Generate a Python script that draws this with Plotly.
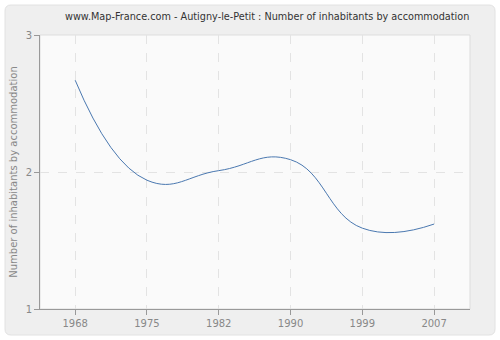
import plotly.graph_objects as go

years = [1968, 1975, 1982, 1990, 1999, 2007]
values = [2.67, 1.94, 2.01, 2.09, 1.59, 1.62]
y_ticks = [1, 2, 3]
title = "www.Map-France.com - Autigny-le-Petit : Number of inhabitants by accommodation"
y_title = "Number of inhabitants by accommodation"

W, H = 500, 340
L, R, T, B = 40, 30, 35, 31
pw, ph = W - L - R, H - T - B


def px(x):
    return (x - L) / pw


def py(y):
    return (H - B - y) / ph


def rounded(x0, y0, x1, y1, r):
    X0, X1 = px(x0), px(x1)
    Y0, Y1 = py(y0), py(y1)
    rx, ry = r / pw, r / ph
    return (f"M {X0+rx},{Y0} L {X1-rx},{Y0} Q {X1},{Y0} {X1},{Y0-ry} "
            f"L {X1},{Y1+ry} Q {X1},{Y1} {X1-rx},{Y1} L {X0+rx},{Y1} "
            f"Q {X0},{Y1} {X0},{Y1+ry} L {X0},{Y0-ry} Q {X0},{Y0} {X0+rx},{Y0} Z")


pos = list(range(len(years)))

fig = go.Figure()
fig.add_trace(go.Scatter(
    x=pos, y=values, mode="lines",
    line=dict(color="#4a78b0", width=1, shape="spline", smoothing=1.3),
    text=[str(y) for y in years], hoverinfo="text+y",
))

font = "DejaVu Sans"
fig.update_layout(
    width=W, height=H,
    margin=dict(l=L, r=R, t=T, b=B),
    paper_bgcolor="#ffffff",
    plot_bgcolor="rgba(0,0,0,0)",
    showlegend=False,
    font=dict(family=font, size=10, color="#888888"),
    shapes=[
        dict(type="path", xref="paper", yref="paper", path=rounded(5, 5, 495, 335, 6),
             fillcolor="#efefef", line=dict(color="#e2e2e2", width=1), layer="below"),
        dict(type="rect", xref="paper", yref="paper", x0=0, x1=1, y0=0, y1=1,
             fillcolor="#fafafa", line=dict(color="#dddddd", width=1), layer="below"),
    ],
    annotations=[
        dict(text=title, xref="paper", yref="paper", x=px(267), y=py(17),
             xanchor="center", yanchor="middle", showarrow=False,
             font=dict(family=font, size=9.7, color="#333333")),
    ],
    xaxis=dict(
        range=[-0.49, 5.5], tickvals=pos, ticktext=[str(v) for v in years],
        showgrid=True, gridcolor="#e3e3e3", griddash="dash", gridwidth=1,
        showline=True, linecolor="#999999", linewidth=1,
        ticks="outside", ticklen=5, tickcolor="#999999",
        zeroline=False, tickfont=dict(size=10, color="#888888"),
    ),
    yaxis=dict(
        range=[1, 3], tickvals=y_ticks, ticktext=[str(v) for v in y_ticks],
        showgrid=True, gridcolor="#e3e3e3", griddash="dash", gridwidth=1,
        showline=True, linecolor="#999999", linewidth=1,
        ticks="outside", ticklen=5, tickcolor="#999999",
        zeroline=False, tickfont=dict(size=10, color="#888888"),
        title=dict(text=y_title, font=dict(size=10, color="#888888"), standoff=6),
    ),
)

fig.write_html("out.html")
